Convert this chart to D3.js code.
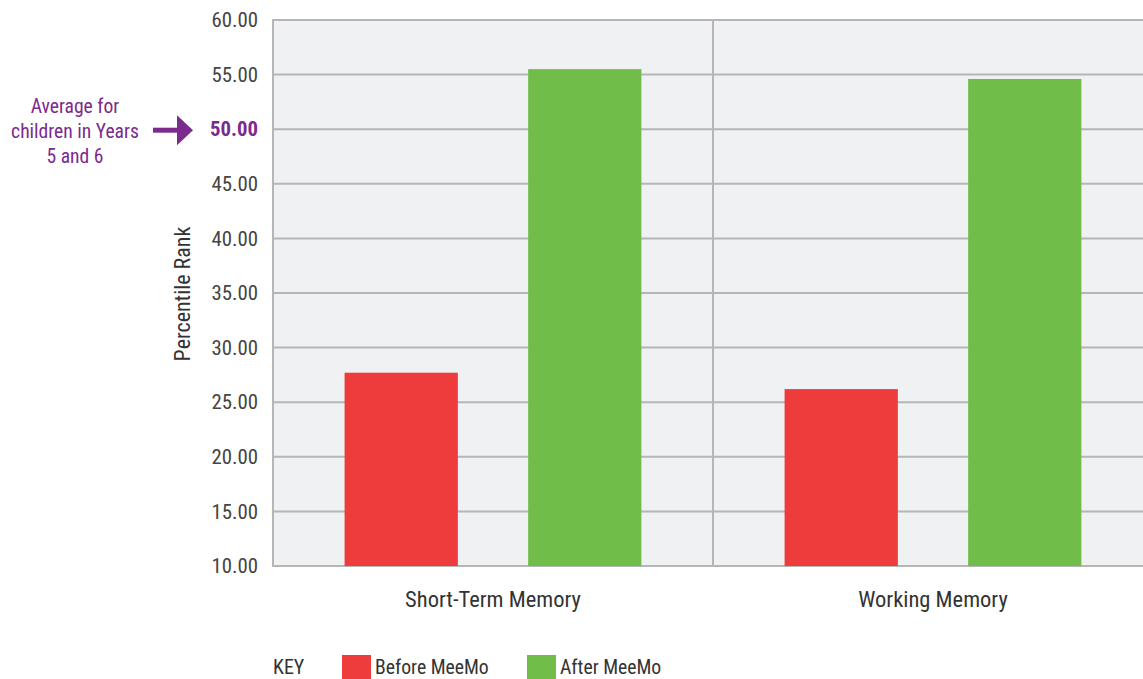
<!DOCTYPE html>
<html><head><meta charset="utf-8">
<script src="https://cdn.jsdelivr.net/npm/d3@7"></script>
<style>
body{margin:0;background:#fff;}
text{font-family:"Liberation Sans Narrow","Roboto Condensed","Liberation Sans",sans-serif;}
</style></head>
<body><svg id="c" width="1143" height="679"></svg>
<script>
const categories = ["Short-Term Memory", "Working Memory"];
const seriesNames = ["Before MeeMo", "After MeeMo"];
const beforeValues = [27.7, 26.2];
const afterValues = [55.5, 54.6];
const yTicks = [10, 15, 20, 25, 30, 35, 40, 45, 50, 55, 60];
const colors = ["#ee3b3c", "#70bd4a"];
const highlightTick = 50;
const annotationLines = ["Average for", "children in Years", "5 and 6"];

const svg = d3.select("#c");
const pL = 273, pR = 1153, pT = 20, pB = 566;
const y = d3.scaleLinear().domain([10, 60]).range([pB, pT]);
const x0 = d3.scaleBand().domain(categories).range([pL, pR]).paddingInner(0).paddingOuter(0);
const x1 = d3.scaleBand().domain(seriesNames).range([0, x0.bandwidth()]).paddingInner(0.383).paddingOuter(0.39);

// background
svg.append("rect").attr("x", pL).attr("y", pT).attr("width", pR - pL).attr("height", pB - pT).attr("fill", "#f0f1f3");

// gridlines
svg.append("g").selectAll("line").data(yTicks).join("line")
  .attr("x1", pL).attr("x2", pR)
  .attr("y1", d => y(d)).attr("y2", d => y(d))
  .attr("stroke", "#b6b6b9").attr("stroke-width", 2);

// vertical dividers
svg.append("line").attr("x1", pL).attr("x2", pL).attr("y1", pT - 1).attr("y2", pB + 1).attr("stroke", "#b6b6b9").attr("stroke-width", 2);
svg.append("g").selectAll("line").data(categories.slice(1)).join("line")
  .attr("x1", d => x0(d)).attr("x2", d => x0(d))
  .attr("y1", pT).attr("y2", pB).attr("stroke", "#b6b6b9").attr("stroke-width", 2);

// bars
const data = categories.map((c, i) => ({cat: c, vals: [beforeValues[i], afterValues[i]]}));
const g = svg.append("g").selectAll("g").data(data).join("g").attr("transform", d => `translate(${x0(d.cat)},0)`);
g.selectAll("rect").data(d => d.vals.map((v, j) => ({s: seriesNames[j], v, j}))).join("rect")
  .attr("x", d => x1(d.s)).attr("width", x1.bandwidth())
  .attr("y", d => y(d.v)).attr("height", d => pB - y(d.v))
  .attr("fill", d => colors[d.j]);

// y axis
const yAxis = svg.append("g").attr("transform", `translate(${pL},0)`)
  .call(d3.axisLeft(y).tickValues(yTicks).tickFormat(d3.format(".2f")).tickSize(0).tickPadding(15));
yAxis.select(".domain").remove();
yAxis.selectAll("text").attr("font-size", 20.8).attr("fill", "#444")
  .style("font-family", "'Liberation Sans Narrow','Roboto Condensed','Liberation Sans',sans-serif")
  .filter(d => d === highlightTick).attr("fill", "#7b2a8e").attr("font-weight", "bold");

// x axis labels
const xAxis = svg.append("g").attr("transform", `translate(0,${pB})`)
  .call(d3.axisBottom(x0).tickSize(0).tickPadding(25));
xAxis.select(".domain").remove();
xAxis.selectAll("text").attr("font-size", 22.5).attr("fill", "#333")
  .style("font-family", "'Liberation Sans Narrow','Roboto Condensed','Liberation Sans',sans-serif");

// y title
svg.append("text").attr("transform", `translate(190,${(pT + pB) / 2 + 1}) rotate(-90)`)
  .attr("text-anchor", "middle").attr("font-size", 22).attr("fill", "#333").text("Percentile Rank");

// annotation
svg.append("g").selectAll("text").data(annotationLines).join("text")
  .attr("x", 75).attr("y", (d, i) => y(highlightTick) - 16 + i * 25)
  .attr("text-anchor", "middle").attr("font-size", 19.6).attr("fill", "#7b2a8e").text(d => d);
const ay = y(highlightTick) + 1;
svg.append("line").attr("x1", 153).attr("x2", 180).attr("y1", ay).attr("y2", ay).attr("stroke", "#7b2a8e").attr("stroke-width", 5);
svg.append("path").attr("d", `M177,${ay - 15} L193,${ay} L177,${ay + 15} Z`).attr("fill", "#7b2a8e");

// legend
const ly = 667;
svg.append("text").attr("x", 273).attr("y", ly + 7).attr("font-size", 20).attr("fill", "#333").text("KEY");
const legendX = [342, 527];
const lg = svg.append("g").selectAll("g").data(seriesNames).join("g").attr("transform", (d, i) => `translate(${legendX[i]},0)`);
lg.append("rect").attr("x", 0).attr("y", ly - 12).attr("width", 29).attr("height", 27).attr("fill", (d, i) => colors[i]);
lg.append("text").attr("x", 33).attr("y", ly + 7).attr("font-size", 19.7).attr("fill", "#333").text(d => d);
</script></body></html>
